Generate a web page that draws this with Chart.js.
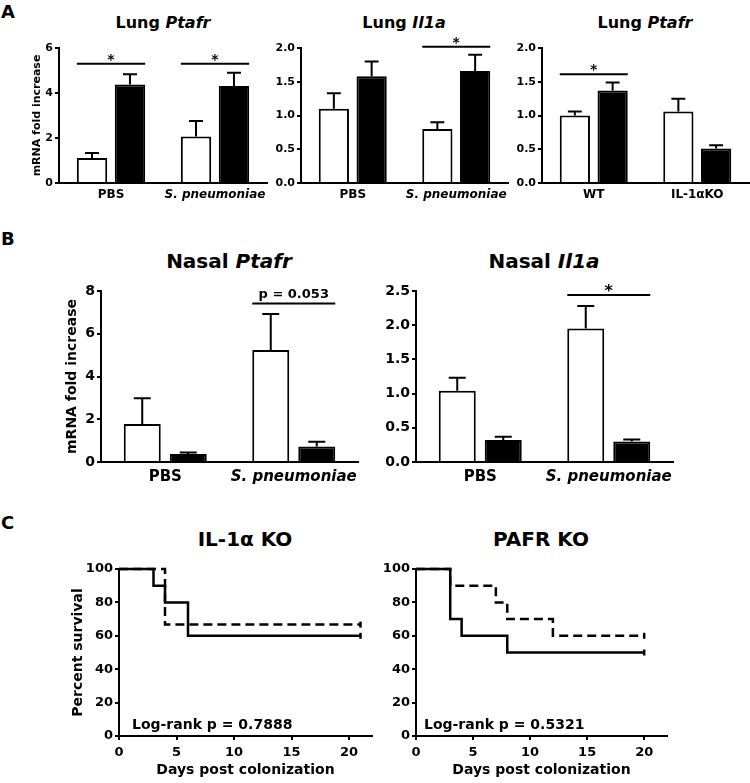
<!DOCTYPE html>
<html>
<head>
<meta charset="utf-8">
<script src="https://cdn.jsdelivr.net/npm/chart.js@4.4.1/dist/chart.umd.min.js"></script>
<style>
  body { margin: 0; background: #fff; }
  #fig { position: relative; width: 750px; height: 783px; overflow: hidden;
         font-family: "DejaVu Sans", sans-serif; font-weight: bold; color: #000; }
  #fig canvas { position: absolute; }
  .lbl { position: absolute; white-space: nowrap; }
  .ttl { position: absolute; width: 300px; text-align: center; white-space: nowrap; }
</style>
</head>
<body>
<div id="fig">
  <div class="lbl" style="left:1px;top:3px;font-size:18px;line-height:18px">A</div>
  <div class="lbl" style="left:1px;top:230px;font-size:18px;line-height:18px">B</div>
  <div class="lbl" style="left:1px;top:514px;font-size:18px;line-height:18px">C</div>

  <div class="ttl" style="left:13px;top:15px;font-size:16px;line-height:16px">Lung <i>Ptafr</i></div>
  <div class="ttl" style="left:254px;top:15px;font-size:16px;line-height:16px">Lung <i>Il1a</i></div>
  <div class="ttl" style="left:495px;top:15px;font-size:16px;line-height:16px">Lung <i>Ptafr</i></div>
  <div class="ttl" style="left:79px;top:251px;font-size:20px;line-height:20px">Nasal <i>Ptafr</i></div>
  <div class="ttl" style="left:394px;top:251px;font-size:20px;line-height:20px">Nasal <i>Il1a</i></div>
  <div class="ttl" style="left:95px;top:529px;font-size:20px;line-height:20px">IL-1α KO</div>
  <div class="ttl" style="left:391px;top:529px;font-size:20px;line-height:20px">PAFR KO</div>

  <canvas id="lungPtafr" width="275" height="175" style="left:0;top:35px"></canvas>
  <canvas id="lungIl1a" width="245" height="175" style="left:270px;top:35px"></canvas>
  <canvas id="lungKo" width="235" height="175" style="left:515px;top:35px"></canvas>
  <canvas id="nasalPtafr" width="370" height="215" style="left:0;top:275px"></canvas>
  <canvas id="nasalIl1a" width="375" height="215" style="left:375px;top:275px"></canvas>
  <canvas id="survIl1a" width="380" height="228" style="left:0;top:555px"></canvas>
  <canvas id="survPafr" width="375" height="228" style="left:375px;top:555px"></canvas>

  <div class="lbl" style="left:132px;top:717px;font-size:14px;line-height:14px">Log-rank p = 0.7888</div>
  <div class="lbl" style="left:424px;top:717px;font-size:14px;line-height:14px">Log-rank p = 0.5321</div>
</div>

<script>
// ---- A: lung mRNA fold increase (mean, SEM); open bars first, filled second
const lungCats = ['PBS', 'S. pneumoniae'];
const lungPtafrOpen = [1.11, 2.07];
const lungPtafrOpenSem = [0.22, 0.69];
const lungPtafrFilled = [4.38, 4.31];
const lungPtafrFilledSem = [0.45, 0.59];

const lungIl1aOpen = [1.10, 0.80];
const lungIl1aOpenSem = [0.23, 0.10];
const lungIl1aFilled = [1.58, 1.66];
const lungIl1aFilledSem = [0.22, 0.24];

const koCats = ['WT', 'IL-1αKO'];
const koPtafrOpen = [1.00, 1.06];
const koPtafrOpenSem = [0.06, 0.19];
const koPtafrFilled = [1.37, 0.51];
const koPtafrFilledSem = [0.12, 0.05];

// ---- B: nasal mRNA fold increase
const nasalCats = ['PBS', 'S. pneumoniae'];
const nasalPtafrOpen = [1.78, 5.24];
const nasalPtafrOpenSem = [1.20, 1.68];
const nasalPtafrFilled = [0.38, 0.72];
const nasalPtafrFilledSem = [0.07, 0.23];

const nasalIl1aOpen = [1.04, 1.95];
const nasalIl1aOpenSem = [0.19, 0.33];
const nasalIl1aFilled = [0.32, 0.30];
const nasalIl1aFilledSem = [0.05, 0.03];

// ---- C: survival (Kaplan-Meier steps)
const il1aSolidDays = [0, 3, 4, 6, 21];
const il1aSolidPct = [100, 90, 80, 60, 60];
const il1aDashDays = [0, 4, 21];
const il1aDashPct = [100, 66.7, 66.7];

const pafrSolidDays = [0, 3, 4, 8, 20];
const pafrSolidPct = [100, 70, 60, 50, 50];
const pafrDashDays = [0, 3, 7, 8, 12, 20];
const pafrDashPct = [100, 90, 80, 70, 60, 60];

const italicLabels = ['S. pneumoniae'];
const FONT = 'DejaVu Sans';

Chart.defaults.font.family = FONT;
Chart.defaults.font.weight = 'bold';
Chart.defaults.color = '#000';
Chart.defaults.animation = false;
Chart.defaults.plugins.legend.display = false;
Chart.defaults.plugins.tooltip.enabled = false;

// error bars (upper only) + significance bars
function marksPlugin(marks) {
  return {
    id: 'marks',
    afterDatasetsDraw(chart) {
      const ctx = chart.ctx, y = chart.scales.y;
      ctx.save();
      ctx.strokeStyle = '#000';
      ctx.fillStyle = '#000';
      ctx.lineWidth = 2;
      chart.data.datasets.forEach((ds, di) => {
        chart.getDatasetMeta(di).data.forEach((bar, i) => {
          const top = y.getPixelForValue(ds.data[i] + ds.sem[i]);
          const half = bar.width * 0.23;
          ctx.beginPath();
          ctx.moveTo(bar.x, bar.y);
          ctx.lineTo(bar.x, top);
          ctx.moveTo(bar.x - half, top);
          ctx.lineTo(bar.x + half, top);
          ctx.stroke();
        });
      });
      marks.forEach(m => {
        const a = chart.getDatasetMeta(0).data[m.cat];
        const b = chart.getDatasetMeta(1).data[m.cat];
        const x0 = a.x - a.width / 2, x1 = b.x + b.width / 2;
        const yy = y.getPixelForValue(m.y);
        ctx.beginPath();
        ctx.moveTo(x0, yy);
        ctx.lineTo(x1, yy);
        ctx.stroke();
        ctx.font = `bold ${m.size}px "${FONT}"`;
        ctx.textAlign = 'center';
        ctx.textBaseline = 'alphabetic';
        let base = yy - m.lift;
        if (m.text === '*') {
          const tm = ctx.measureText('*');
          base += (tm.actualBoundingBoxAscent - tm.actualBoundingBoxDescent) / 2;
        }
        ctx.fillText(m.text, (x0 + x1) / 2, base);
      });
      ctx.restore();
    }
  };
}

function barChart(id, box, cats, open, openSem, filled, filledSem, yMax, yStep, dec, marks) {
  return new Chart(document.getElementById(id), {
    type: 'bar',
    data: {
      labels: cats,
      datasets: [
        { data: open, sem: openSem, backgroundColor: '#fff', borderColor: '#000', borderWidth: 2,
          categoryPercentage: box.catPct, barPercentage: box.barPct },
        { data: filled, sem: filledSem, backgroundColor: '#000', borderColor: '#000', borderWidth: 2,
          categoryPercentage: box.catPct, barPercentage: box.barPct }
      ]
    },
    options: {
      responsive: false,
      layout: { padding: { top: box.pt, right: box.pr, left: 0, bottom: 0 } },
      scales: {
        x: {
          grid: { display: false, drawTicks: false },
          border: { color: '#000', width: 2 },
          ticks: {
            padding: box.catPad, maxRotation: 0, autoSkip: false,
            font: c => ({ family: FONT, weight: 'bold', size: box.cat,
                          style: italicLabels.includes(cats[c.index]) ? 'italic' : 'normal' })
          },
          afterFit: s => { s.height = box.xh; }
        },
        y: {
          min: 0, max: yMax,
          ticks: { stepSize: yStep, padding: 2, autoSkip: false, font: { size: box.tick },
                   callback: v => v.toFixed(dec) },
          grid: { drawOnChartArea: false, tickLength: 4, color: '#000', lineWidth: 2 },
          border: { color: '#000', width: 2 },
          title: { display: !!box.yTitle, text: 'mRNA fold increase', font: { size: box.yTitleSize },
                   padding: { top: box.yTitlePad, bottom: 0 } },
          afterFit: s => { s.width = box.yw; }
        }
      }
    },
    plugins: [marksPlugin(marks)]
  });
}

const rowA = { pt: 13, xh: 27, tick: 11, cat: 12, catPad: 5, catPct: 0.73, barPct: 0.8, yTitleSize: 11, yTitlePad: 31 };
const rowB = { pt: 16, xh: 28, tick: 14, cat: 15, catPad: 6, catPct: 0.716, barPct: 0.804, yTitleSize: 14, yTitlePad: 64 };

barChart('lungPtafr', { ...rowA, yw: 59, pr: 8, yTitle: true }, lungCats,
  lungPtafrOpen, lungPtafrOpenSem, lungPtafrFilled, lungPtafrFilledSem, 6, 2, 0,
  [{ cat: 0, y: 5.3, text: '*', size: 14, lift: 6 }, { cat: 1, y: 5.3, text: '*', size: 14, lift: 6 }]);

barChart('lungIl1a', { ...rowA, yw: 31, pr: 7 }, lungCats,
  lungIl1aOpen, lungIl1aOpenSem, lungIl1aFilled, lungIl1aFilledSem, 2, 0.5, 1,
  [{ cat: 1, y: 2.02, text: '*', size: 14, lift: 6 }]);

barChart('lungKo', { ...rowA, yw: 27, pr: 1 }, koCats,
  koPtafrOpen, koPtafrOpenSem, koPtafrFilled, koPtafrFilledSem, 2, 0.5, 1,
  [{ cat: 0, y: 1.61, text: '*', size: 14, lift: 7 }]);

barChart('nasalPtafr', { ...rowB, yw: 101, pr: 12, yTitle: true }, nasalCats,
  nasalPtafrOpen, nasalPtafrOpenSem, nasalPtafrFilled, nasalPtafrFilledSem, 8, 2, 0,
  [{ cat: 1, y: 7.42, text: 'p = 0.053', size: 13, lift: 5 }]);

barChart('nasalIl1a', { ...rowB, yw: 41, pr: 77 }, nasalCats,
  nasalIl1aOpen, nasalIl1aOpenSem, nasalIl1aFilled, nasalIl1aFilledSem, 2.5, 0.5, 1,
  [{ cat: 1, y: 2.44, text: '*', size: 16, lift: 7.5 }]);

function kmDataset(days, pct, dash) {
  const last = days.length - 1;
  return {
    data: days.map((d, i) => ({ x: d, y: pct[i] })),
    stepped: true,
    borderColor: '#000',
    borderWidth: 2.5,
    borderDash: dash,
    fill: false,
    clip: false,
    pointStyle: 'line',
    rotation: 90,
    pointBorderColor: '#000',
    pointBorderWidth: 2.5,
    pointRadius: c => (c.dataIndex === last ? 3 : 0)
  };
}

function survChart(id, box, solidDays, solidPct, dashDays, dashPct) {
  return new Chart(document.getElementById(id), {
    type: 'line',
    data: {
      datasets: [kmDataset(solidDays, solidPct, []), kmDataset(dashDays, dashPct, [9, 5])]
    },
    options: {
      responsive: false,
      layout: { padding: { top: 14, right: box.pr, left: 0, bottom: 0 } },
      scales: {
        x: {
          type: 'linear', min: 0, max: 22,
          ticks: { stepSize: 5, includeBounds: false, padding: 5, maxRotation: 0, font: { size: 13 } },
          grid: { drawOnChartArea: false, tickLength: 4, color: '#000', lineWidth: 2 },
          border: { color: '#000', width: 2 },
          title: { display: true, text: 'Days post colonization', font: { size: 14 },
                   padding: { top: 0, bottom: 4.6 } },
          afterFit: s => { s.height = 47; }
        },
        y: {
          min: 0, max: 100,
          ticks: { stepSize: 20, padding: 2, autoSkip: false, font: { size: 13 } },
          grid: { drawOnChartArea: false, tickLength: 4, color: '#000', lineWidth: 2 },
          border: { color: '#000', width: 2 },
          title: { display: !!box.yTitle, text: 'Percent survival', font: { size: 14 },
                   padding: { top: 69.6, bottom: 0 } },
          afterFit: s => { s.width = box.yw; }
        }
      }
    }
  });
}

survChart('survIl1a', { yw: 119, pr: 8, yTitle: true }, il1aSolidDays, il1aSolidPct, il1aDashDays, il1aDashPct);
survChart('survPafr', { yw: 41, pr: 83 }, pafrSolidDays, pafrSolidPct, pafrDashDays, pafrDashPct);
</script>
</body>
</html>
